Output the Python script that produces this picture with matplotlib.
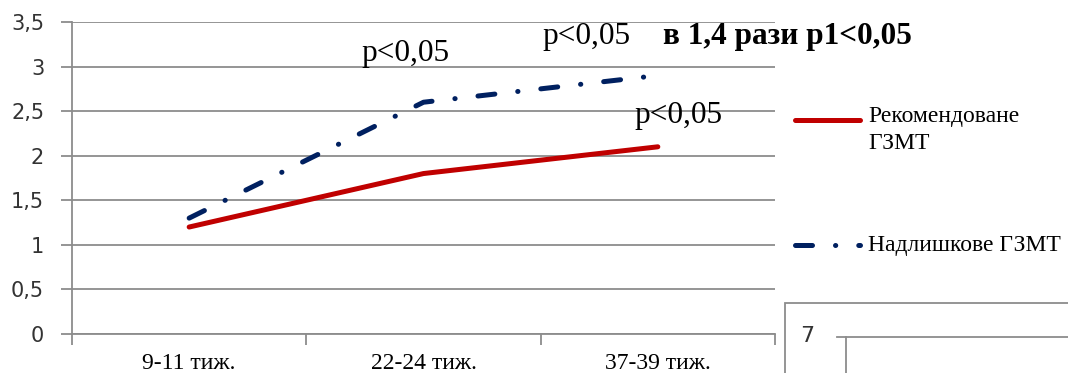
import matplotlib
matplotlib.use('Agg')
import matplotlib.pyplot as plt
from matplotlib.lines import Line2D
from matplotlib.patches import Rectangle

weeks = ['9-11 тиж.', '22-24 тиж.', '37-39 тиж.']
recommended = [1.2, 1.8, 2.1]
excess = [1.3, 2.6, 2.9]
series_names = ['Рекомендоване\nГЗМТ', 'Надлишкове ГЗМТ']
y_ticks = [0, 0.5, 1, 1.5, 2, 2.5, 3, 3.5]
y_tick_labels = ['0', '0,5', '1', '1,5', '2', '2,5', '3', '3,5']

red = '#C00000'
blue = '#002060'
grid_color = '#8C8C8C'
serif = 'Liberation Serif'
dash_dot = (0, (3.4, 4.6, 0.05, 4.6))

fig = plt.figure(figsize=(10.68, 3.73), dpi=100)
ax = fig.add_axes([72 / 1068, 39 / 373, 703 / 1068, 312 / 373])

x = list(range(len(weeks)))
ax.plot(x, recommended, color=red, linewidth=3.6, solid_capstyle='round', zorder=3)
ax.plot(x, excess, color=blue, linewidth=3.6,
        linestyle=dash_dot, dash_capstyle='round', zorder=3)

ax.set_xlim(-0.5, 2.5)
ax.set_ylim(0, 3.5)
ax.set_yticks(y_ticks)
ax.set_yticklabels(y_tick_labels, fontfamily='DejaVu Sans', fontsize=15, color='#333333')
ax.set_xticks(x)
ax.set_xticklabels(weeks, fontfamily=serif, fontsize=17, color='black')
ax.set_xticks([-0.5, 0.5, 1.5, 2.5], minor=True)
ax.tick_params(axis='x', which='major', length=0, pad=14)
ax.tick_params(axis='x', which='minor', length=8, width=1.3, color=grid_color)
ax.tick_params(axis='y', length=8, width=1.3, color=grid_color, pad=12)
ax.grid(axis='y', color=grid_color, linewidth=1.3)
ax.set_axisbelow(True)

for side in ['top', 'right']:
    ax.spines[side].set_visible(False)
for side in ['left', 'bottom']:
    ax.spines[side].set_color(grid_color)
    ax.spines[side].set_linewidth(1.3)

# p-value notes
ax.text(0.925, 3.06, 'p<0,05', fontfamily=serif, fontsize=22.5, ha='center', va='baseline')
ax.text(1.696, 3.25, 'p<0,05', fontfamily=serif, fontsize=22.5, ha='center', va='baseline')
ax.text(2.022, 3.25, 'в 1,4 рази p1<0,05', fontfamily=serif, fontsize=22.5,
        fontweight='bold', ha='left', va='baseline')
ax.text(2.089, 2.37, 'p<0,05', fontfamily=serif, fontsize=22.5, ha='center', va='baseline')

# legend, drawn by hand to sit like the original
fig.add_artist(Line2D([795 / 1068, 860 / 1068], [1 - 120 / 373, 1 - 120 / 373],
                      color=red, linewidth=3.6, solid_capstyle='round'))
fig.text(868 / 1068, 1 - 106 / 373, series_names[0], fontfamily=serif, fontsize=17,
         ha='left', va='top', linespacing=1.4)
fig.add_artist(Line2D([795 / 1068, 860 / 1068], [1 - 245 / 373, 1 - 245 / 373],
                      color=blue, linewidth=3.6,
                      linestyle=dash_dot, dash_capstyle='round'))
fig.text(868 / 1068, 1 - 245 / 373, series_names[1], fontfamily=serif, fontsize=17,
         ha='left', va='center')

# edge of the next chart peeking in at the bottom right
fig.add_artist(Rectangle((785 / 1068, -0.05), 0.5, (373 - 303) / 373 + 0.05,
                         fill=False, edgecolor=grid_color, linewidth=1.3))
fig.text(807 / 1068, 1 - 336 / 373, '7', fontfamily='DejaVu Sans', fontsize=16,
         color='#333333', ha='center', va='center')
fig.add_artist(Line2D([837 / 1068, 1.0], [1 - 337 / 373, 1 - 337 / 373],
                      color=grid_color, linewidth=1.3))
fig.add_artist(Line2D([846 / 1068, 846 / 1068], [1 - 337 / 373, 0],
                      color=grid_color, linewidth=1.3))

fig.savefig('out.png', dpi=100)
